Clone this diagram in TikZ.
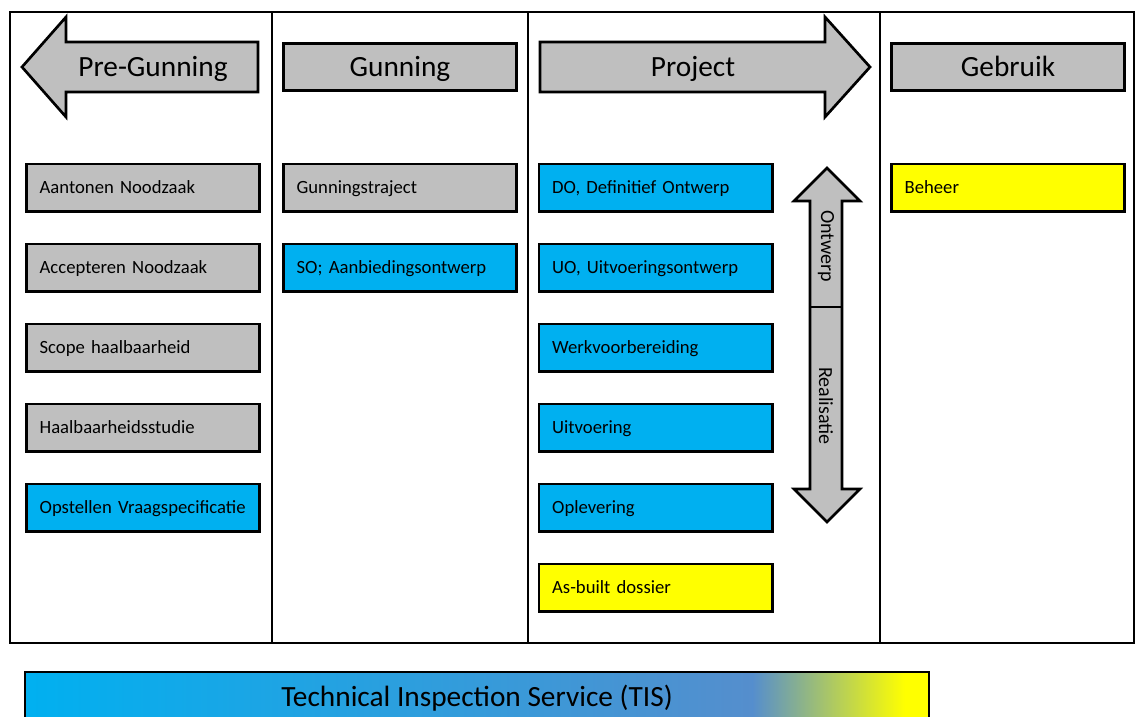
\documentclass[tikz,border=0pt]{standalone}
\usepackage{fontspec}
\setmainfont{Carlito}
\usetikzlibrary{positioning}
\definecolor{boxgray}{RGB}{191,191,191}
\definecolor{boxblue}{RGB}{0,176,240}
\definecolor{boxyellow}{RGB}{255,255,0}
\definecolor{midblue}{RGB}{85,142,205}
\tikzset{task/.style={rectangle,draw=black,line width=2pt,minimum width=175pt,minimum height=35.5pt,text width=155pt,inner xsep=10pt,align=left,text height=9pt,text depth=0pt,font=\fontsize{14}{16}\selectfont}}
\tikzset{greytask/.style={task,fill=boxgray}}
\tikzset{bluetask/.style={task,fill=boxblue}}
\tikzset{yellowtask/.style={task,fill=boxyellow}}
\tikzset{phase/.style={rectangle,draw=black,fill=boxgray,line width=2pt,minimum width=175pt,minimum height=35.5pt,text height=14.2pt,text depth=0pt,font=\fontsize{22}{24}\selectfont}}
\tikzset{phaselabel/.style={text height=14.2pt,text depth=0pt,font=\fontsize{22}{24}\selectfont}}
\tikzset{bigArrow/.style={draw=black,fill=boxgray,line width=2pt,line join=miter}}
\tikzset{frame/.style={draw=black,line width=2pt}}

\begin{document}
\begin{tikzpicture}[x=0.75pt,y=-0.75pt]
\useasboundingbox (0,0) rectangle (1136,717);
\clip (0,0) rectangle (1136,717);
% columns
\draw[frame] (10,12) rectangle (1134,643);
\foreach \x in {272,528,880} \draw[frame] (\x,12) -- (\x,643);
% phase headers
\filldraw[bigArrow] (258,42) -- (66,42) -- (66,17) -- (22,67) -- (66,117) -- (66,92) -- (258,92) -- cycle;
\node (pregunning) [phaselabel] at (153,67) {Pre-Gunning};
\node (gunning) [phase] at (400,67) {Gunning};
\filldraw[bigArrow] (540,42) -- (825,42) -- (825,17) -- (870,67) -- (825,117) -- (825,92) -- (540,92) -- cycle;
\node (project) [phaselabel] at (693,67) {Project};
\node (gebruik) [phase] at (1008,67) {Gebruik};
\begin{scope}[node distance=22.5pt]
	\node (aantonen) [greytask] at (143,187.5) {Aantonen Noodzaak};
	\node (accepteren) [greytask, below =of aantonen] {Accepteren Noodzaak};
	\node (scope) [greytask, below =of accepteren] {Scope haalbaarheid};
	\node (studie) [greytask, below =of scope] {Haalbaarheidsstudie};
	\node (vraagspec) [bluetask, below =of studie] {Opstellen Vraagspecificatie};
	\node (traject) [greytask] at (400,187.5) {Gunningstraject};
	\node (so) [bluetask, below =of traject] {SO; Aanbiedingsontwerp};
	\node (do) [bluetask] at (655.5,187.5) {DO, Definitief Ontwerp};
	\node (uo) [bluetask, below =of do] {UO, Uitvoeringsontwerp};
	\node (werkvb) [bluetask, below =of uo] {Werkvoorbereiding};
	\node (uitvoering) [bluetask, below =of werkvb] {Uitvoering};
	\node (oplevering) [bluetask, below =of uitvoering] {Oplevering};
	\node (asbuilt) [yellowtask, below =of oplevering] {As-built dossier};
	\node (beheer) [yellowtask] at (1008,187.5) {Beheer};
\end{scope}
% ontwerp / realisatie
\filldraw[bigArrow] (827,168) -- (860,201) -- (842,201) -- (842,489) -- (860,489) -- (827,522) -- (794,489) -- (810,489) -- (810,201) -- (794,201) -- cycle;
\draw[line width=2pt] (810,307) -- (842,307);
\node (ontwerp) [rotate=-90,font=\fontsize{15}{17}\selectfont] at (826,246) {Ontwerp};
\node (realisatie) [rotate=-90,font=\fontsize{15}{17}\selectfont] at (826,406) {Realisatie};
% TIS
\shade[left color=boxblue,right color=midblue] (25,672) rectangle (753,720);
\shade[left color=midblue,right color=boxyellow] (752.5,672) rectangle (905,720);
\fill[boxyellow] (904.5,672) rectangle (929,720);
\draw[frame] (25,720) -- (25,672) -- (929,672) -- (929,720);
\node (tis) [phaselabel] at (477,697) {Technical Inspection Service (TIS)};
\end{tikzpicture}
\end{document}
